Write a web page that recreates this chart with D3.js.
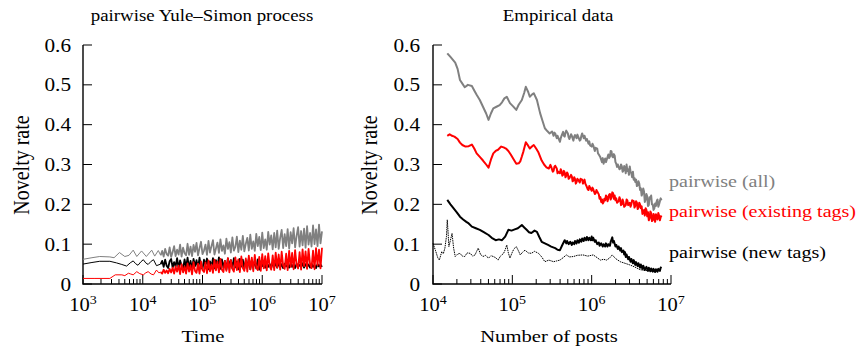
<!DOCTYPE html>
<html>
<head>
<meta charset="utf-8">
<script src="https://cdn.jsdelivr.net/npm/d3@7"></script>
<style>
  body { margin: 0; background: #fff; }
  text { font-family: "Liberation Serif", "Times New Roman", serif; }
</style>
</head>
<body>
<svg id="chart" width="860" height="350"></svg>
<script>
// ---- data -------------------------------------------------------------------
// x values are log10 of time / number of posts

const rateTicks = [0, 0.1, 0.2, 0.3, 0.4, 0.5, 0.6];
const simDecades = [3, 4, 5, 6, 7];
const empDecades = [4, 5, 6, 7];

// simulation, smooth start (pairs [log10 t, rate])
const simAllStart = [[3.0,.062],[3.15,.066],[3.28,.069],[3.45,.068],[3.52,.066],[3.61,.079],[3.70,.069],[3.77,.072],[3.84,.085],[3.90,.069],[3.98,.083],[4.06,.069],[4.15,.085],[4.20,.070],[4.26,.084]];
const simNewStart = [[3.0,.050],[3.15,.054],[3.28,.057],[3.45,.057],[3.56,.053],[3.65,.049],[3.73,.045],[3.79,.053],[3.84,.058],[3.88,.051],[3.92,.047],[3.97,.056],[4.01,.061],[4.05,.053],[4.09,.049],[4.14,.057],[4.18,.061],[4.23,.046]];
const simOldStart = [[3.0,.014],[3.2,.014],[3.45,.014],[3.54,.023],[3.65,.023],[3.70,.021],[3.76,.027],[3.80,.025],[3.84,.023],[3.90,.031],[3.95,.026],[4.01,.023],[4.05,.028],[4.09,.031],[4.14,.025],[4.18,.023],[4.23,.035],[4.27,.028]];

// simulation, noisy part sampled from 10^4.3 to 10^7 every 0.025 decades
const simNoiseFrom = 4.3, simNoiseStep = 0.025;
const simAllNoise = [.072,.083,.069,.088,.075,.071,.092,.068,.080,.095,.070,.086,.074,.099,.069,.091,.077,.072,.101,.073,
  .094,.070,.098,.081,.103,.072,.090,.106,.075,.084,.099,.073,.108,.079,.095,.110,.074,.089,.104,.078,
  .112,.083,.097,.076,.114,.088,.105,.079,.117,.084,.093,.119,.080,.109,.086,.121,.082,.101,.116,.084,
  .124,.088,.107,.083,.126,.095,.118,.085,.129,.090,.112,.086,.131,.099,.122,.087,.128,.092,.134,.088,
  .116,.136,.090,.125,.095,.138,.089,.130,.102,.140,.092,.121,.143,.094,.133,.097,.139,.091,.145,.099,
  .128,.094,.147,.100,.137,.095,.149,.102,.132];
const simNewNoise = [.050,.058,.043,.061,.046,.040,.057,.063,.041,.055,.044,.065,.039,.059,.047,.038,.062,.042,.066,.040,
  .058,.037,.063,.045,.060,.039,.066,.043,.038,.061,.048,.064,.037,.057,.042,.065,.039,.060,.044,.067,
  .038,.062,.041,.058,.036,.064,.046,.060,.039,.065,.042,.057,.037,.063,.044,.061,.038,.059,.041,.064,
  .037,.060,.043,.058,.039,.062,.036,.057,.045,.052,.041,.054,.043,.050,.040,.053,.044,.051,.041,.052,
  .042,.050,.040,.051,.044,.049,.041,.052,.043,.050,.040,.051,.044,.048,.042,.052,.041,.050,.043,.049,
  .041,.051,.043,.048,.040,.050,.044,.049,.043];
const simOldNoise = [.030,.026,.036,.028,.034,.027,.038,.029,.041,.026,.044,.031,.046,.025,.050,.029,.044,.026,.052,.031,
  .047,.024,.055,.033,.028,.051,.026,.057,.035,.030,.054,.027,.059,.032,.049,.028,.061,.034,.056,.029,
  .063,.036,.030,.058,.033,.065,.029,.060,.038,.031,.067,.035,.062,.030,.069,.040,.033,.064,.031,.071,
  .037,.066,.032,.073,.042,.035,.068,.033,.075,.039,.070,.034,.077,.044,.036,.072,.035,.079,.041,.074,
  .036,.081,.046,.038,.076,.035,.083,.043,.078,.037,.085,.048,.039,.080,.036,.087,.045,.082,.038,.088,
  .050,.040,.084,.037,.090,.047,.086,.039,.091];

// empirical data (pairs [log10 posts, rate])
const empAll = [[4.18,.579],[4.22,.570],[4.28,.556],[4.31,.540],[4.34,.512],[4.37,.503],[4.40,.494],[4.44,.500],[4.49,.497],[4.52,.486],
  [4.55,.475],[4.59,.462],[4.63,.445],[4.67,.428],[4.70,.412],[4.73,.428],[4.76,.441],[4.80,.445],[4.84,.449],[4.87,.456],
  [4.90,.466],[4.93,.470],[4.97,.454],[5.01,.446],[5.05,.437],[5.08,.450],[5.12,.462],[5.15,.480],[5.17,.495],[5.20,.482],
  [5.22,.470],[5.25,.476],[5.27,.479],[5.31,.462],[5.35,.429],[5.38,.410],[5.41,.391],[5.44,.384],[5.47,.378],[5.50,.383],
  [5.52,.372],[5.53,.380],[5.54,.378],[5.56,.366],[5.57,.372],[5.60,.357],[5.61,.366],[5.62,.372],[5.64,.382],[5.65,.372],
  [5.66,.370],[5.67,.380],[5.68,.385],[5.70,.378],[5.71,.368],[5.72,.364],[5.74,.376],[5.75,.372],[5.77,.360],[5.78,.370],
  [5.79,.374],[5.81,.366],[5.82,.375],[5.83,.370],[5.85,.360],[5.86,.362],[5.87,.372],[5.88,.378],[5.90,.366],[5.91,.372],
  [5.93,.360],[5.94,.364],[5.96,.352],[5.97,.358],[5.98,.348],[6.00,.345],[6.01,.352],[6.02,.348],[6.04,.334],[6.05,.342],
  [6.07,.340],[6.08,.328],[6.09,.325],[6.11,.318],[6.12,.312],[6.13,.306],[6.14,.316],[6.15,.302],[6.17,.315],[6.18,.306],
  [6.19,.312],[6.21,.325],[6.22,.316],[6.23,.320],[6.24,.334],[6.25,.333],[6.26,.320],[6.27,.318],[6.28,.326],[6.29,.322],
  [6.30,.306],[6.31,.302],[6.32,.294],[6.33,.300],[6.35,.288],[6.36,.290],[6.37,.300],[6.38,.296],[6.39,.282],[6.40,.284],
  [6.41,.296],[6.42,.292],[6.43,.278],[6.44,.300],[6.45,.284],[6.46,.288],[6.47,.274],[6.48,.295],[6.49,.282],[6.50,.278],
  [6.51,.268],[6.52,.282],[6.53,.262],[6.54,.266],[6.55,.256],[6.56,.262],[6.57,.246],[6.58,.248],[6.59,.258],[6.60,.252],
  [6.61,.236],[6.62,.240],[6.63,.222],[6.64,.228],[6.65,.240],[6.66,.232],[6.67,.206],[6.68,.212],[6.69,.226],[6.70,.220],
  [6.71,.196],[6.72,.198],[6.73,.218],[6.74,.214],[6.75,.222],[6.76,.200],[6.77,.200],[6.78,.186],[6.79,.190],[6.80,.202],
  [6.81,.196],[6.82,.208],[6.83,.212],[6.84,.194],[6.85,.200],[6.86,.208],[6.87,.215],[6.88,.210]];
const empOld = [[4.18,.372],[4.21,.376],[4.24,.372],[4.27,.370],[4.31,.364],[4.34,.355],[4.37,.349],[4.41,.345],[4.45,.346],[4.49,.350],
  [4.52,.340],[4.55,.328],[4.59,.319],[4.63,.310],[4.67,.300],[4.70,.292],[4.73,.312],[4.76,.328],[4.79,.334],[4.82,.337],
  [4.86,.345],[4.89,.343],[4.92,.340],[4.95,.334],[4.98,.325],[5.01,.315],[5.05,.302],[5.08,.303],[5.10,.308],[5.12,.320],
  [5.14,.333],[5.17,.356],[5.19,.350],[5.22,.340],[5.25,.346],[5.27,.349],[5.30,.340],[5.33,.330],[5.37,.310],[5.40,.300],
  [5.43,.293],[5.46,.290],[5.48,.299],[5.49,.294],[5.51,.282],[5.52,.284],[5.53,.294],[5.54,.297],[5.56,.290],[5.57,.278],
  [5.58,.282],[5.60,.278],[5.61,.288],[5.62,.284],[5.63,.272],[5.64,.274],[5.65,.284],[5.66,.280],[5.67,.268],[5.68,.272],
  [5.69,.280],[5.70,.276],[5.71,.264],[5.72,.266],[5.74,.274],[5.75,.270],[5.76,.258],[5.77,.260],[5.78,.268],[5.79,.264],
  [5.80,.252],[5.81,.256],[5.82,.264],[5.83,.262],[5.85,.255],[5.86,.264],[5.88,.262],[5.89,.252],[5.91,.262],[5.92,.252],
  [5.93,.248],[5.95,.238],[5.96,.236],[5.97,.246],[5.98,.242],[6.00,.234],[6.01,.242],[6.02,.238],[6.04,.226],[6.05,.228],
  [6.06,.236],[6.07,.232],[6.09,.225],[6.10,.214],[6.11,.218],[6.12,.206],[6.13,.212],[6.14,.202],[6.15,.206],[6.16,.214],
  [6.17,.210],[6.18,.222],[6.19,.220],[6.20,.208],[6.21,.215],[6.22,.224],[6.23,.226],[6.24,.212],[6.25,.218],[6.26,.230],
  [6.27,.228],[6.28,.214],[6.29,.222],[6.30,.210],[6.31,.215],[6.32,.204],[6.34,.208],[6.35,.218],[6.36,.212],[6.37,.198],
  [6.38,.200],[6.39,.212],[6.40,.206],[6.41,.194],[6.43,.198],[6.44,.212],[6.45,.210],[6.46,.198],[6.48,.204],[6.49,.194],
  [6.50,.200],[6.51,.210],[6.53,.208],[6.54,.192],[6.55,.196],[6.56,.208],[6.57,.204],[6.58,.188],[6.59,.192],[6.60,.204],
  [6.61,.200],[6.62,.190],[6.63,.195],[6.64,.176],[6.65,.178],[6.66,.186],[6.67,.172],[6.68,.190],[6.69,.186],[6.70,.170],
  [6.71,.180],[6.72,.160],[6.73,.165],[6.74,.182],[6.75,.178],[6.76,.158],[6.77,.160],[6.78,.176],[6.79,.170],[6.80,.156],
  [6.81,.175],[6.82,.168],[6.83,.162],[6.84,.178],[6.85,.172],[6.86,.160],[6.87,.168],[6.88,.172]];
const empNew = [[4.18,.211],[4.22,.200],[4.26,.190],[4.30,.180],[4.34,.169],[4.38,.162],[4.42,.156],[4.45,.152],[4.49,.144],[4.54,.140],
  [4.59,.136],[4.64,.130],[4.70,.123],[4.74,.116],[4.79,.110],[4.83,.112],[4.87,.110],[4.91,.119],[4.95,.136],[4.99,.134],
  [5.03,.137],[5.07,.140],[5.12,.148],[5.15,.142],[5.18,.136],[5.21,.130],[5.24,.128],[5.28,.134],[5.31,.131],[5.34,.118],
  [5.37,.106],[5.41,.102],[5.45,.098],[5.49,.094],[5.54,.090],[5.57,.086],[5.60,.085],[5.63,.098],[5.66,.110],[5.68,.102],
  [5.69,.108],[5.71,.100],[5.73,.106],[5.75,.098],[5.76,.104],[5.78,.100],[5.79,.108],[5.81,.102],[5.82,.110],[5.84,.104],
  [5.85,.112],[5.87,.106],[5.88,.114],[5.90,.108],[5.91,.116],[5.93,.110],[5.94,.118],[5.96,.110],[5.97,.116],[5.99,.110],
  [6.00,.119],[6.01,.110],[6.02,.116],[6.04,.106],[6.05,.110],[6.07,.100],[6.09,.104],[6.10,.096],[6.12,.102],[6.14,.094],
  [6.15,.100],[6.17,.094],[6.18,.102],[6.20,.094],[6.21,.100],[6.23,.096],[6.24,.106],[6.26,.117],[6.27,.104],[6.28,.108],
  [6.30,.094],[6.31,.098],[6.33,.088],[6.34,.094],[6.36,.084],[6.37,.090],[6.38,.080],[6.40,.084],[6.41,.074],[6.42,.080],
  [6.43,.068],[6.44,.074],[6.46,.062],[6.47,.068],[6.49,.056],[6.50,.063],[6.52,.052],[6.53,.060],[6.55,.048],[6.56,.055],
  [6.58,.045],[6.59,.052],[6.61,.041],[6.62,.049],[6.64,.038],[6.65,.046],[6.67,.035],[6.69,.043],[6.71,.033],[6.72,.041],
  [6.74,.032],[6.75,.039],[6.77,.031],[6.78,.038],[6.80,.030],[6.81,.037],[6.83,.031],[6.84,.038],[6.86,.033],[6.87,.041],[6.88,.043]];
const empNewDotted = [[4.00,.102],[4.03,.085],[4.06,.066],[4.08,.060],[4.11,.081],[4.13,.076],[4.15,.090],[4.17,.120],[4.18,.161],[4.19,.130],
  [4.20,.094],[4.22,.110],[4.24,.127],[4.26,.090],[4.28,.069],[4.31,.075],[4.34,.077],[4.37,.070],[4.40,.069],[4.43,.078],
  [4.47,.077],[4.50,.070],[4.53,.073],[4.55,.082],[4.57,.090],[4.60,.074],[4.63,.069],[4.66,.072],[4.70,.065],[4.73,.071],
  [4.76,.069],[4.79,.066],[4.82,.060],[4.85,.070],[4.89,.077],[4.91,.086],[4.93,.098],[4.95,.078],[4.97,.065],[5.00,.080],
  [5.02,.088],[5.05,.094],[5.08,.082],[5.10,.073],[5.13,.080],[5.16,.085],[5.20,.078],[5.24,.077],[5.28,.082],[5.33,.077],
  [5.37,.068],[5.41,.056],[5.46,.060],[5.52,.056],[5.56,.058],[5.60,.060],[5.64,.066],[5.68,.073],[5.72,.068],[5.77,.069],
  [5.82,.072],[5.89,.073],[5.95,.070],[6.02,.073],[6.07,.066],[6.11,.060],[6.15,.062],[6.19,.060],[6.23,.066],[6.26,.073],
  [6.30,.064],[6.36,.056],[6.42,.052],[6.48,.048],[6.54,.043],[6.61,.036],[6.67,.034],[6.74,.033],[6.80,.032],[6.85,.034],[6.88,.035]];

// ---- layout -----------------------------------------------------------------

const svg = d3.select('#chart');
const plotTop = 45, plotBottom = 284;
const panels = [
  { left: 83, right: 322, decades: simDecades, title: 'pairwise Yule\u2013Simon process', xTitle: 'Time',
    titleX: 202, xTitleX: 203, yTitleX: 29, tickRight: 71 },
  { left: 433, right: 671, decades: empDecades, title: 'Empirical data', xTitle: 'Number of posts',
    titleX: 558, xTitleX: 549, yTitleX: 377, tickRight: 420 }
];

const y = d3.scaleLinear().domain([0, 0.6]).range([plotBottom, plotTop]);
const stretch = 1.18;

function label(g, x, yy, str, size, anchor, color) {
  return g.append('text')
    .attr('transform', 'translate(' + x + ',' + yy + ') scale(' + stretch + ',1)')
    .attr('text-anchor', anchor)
    .style('font-size', size + 'px')
    .style('fill', color || '#000')
    .text(str);
}

panels.forEach(p => {
  const lo = p.decades[0], hi = p.decades[p.decades.length - 1];
  p.x = d3.scaleLog().domain([Math.pow(10, lo), Math.pow(10, hi)]).range([p.left, p.right]);
  const g = svg.append('g');
  p.g = g;

  label(g, p.titleX, 21, p.title, 16, 'middle');
  label(g, p.xTitleX, 342, p.xTitle, 17.5, 'middle');
  g.append('text')
    .attr('transform', 'translate(' + p.yTitleX + ',165) rotate(-90) scale(1,' + stretch + ')')
    .attr('text-anchor', 'middle')
    .style('font-size', '20px')
    .text('Novelty rate');

  // y ticks
  rateTicks.forEach(v => {
    g.append('line').attr('x1', p.left).attr('x2', p.left + 9)
      .attr('y1', y(v)).attr('y2', y(v)).attr('stroke', '#000').attr('stroke-width', 1);
    label(g, p.tickRight, y(v) + 6.5, v === 0 ? '0' : d3.format('.1f')(v), 18, 'end');
  });

  // x ticks, major and minor
  for (let d = lo; d <= hi; d++) {
    const xv = p.x(Math.pow(10, d));
    g.append('line').attr('x1', xv).attr('x2', xv).attr('y1', plotBottom).attr('y2', plotBottom - 9)
      .attr('stroke', '#000').attr('stroke-width', 1);
    const t = g.append('text')
      .attr('transform', 'translate(' + xv + ',311) scale(1.08,1)')
      .attr('text-anchor', 'middle')
      .style('font-size', '19px');
    t.append('tspan').text('10');
    t.append('tspan').attr('dy', -7).style('font-size', '13px').text(d);
    if (d < hi) {
      for (let m = 2; m <= 9; m++) {
        const xm = p.x(m * Math.pow(10, d));
        g.append('line').attr('x1', xm).attr('x2', xm).attr('y1', plotBottom).attr('y2', plotBottom - 5)
          .attr('stroke', '#000').attr('stroke-width', 1);
      }
    }
  }

  // axis lines
  g.append('path')
    .attr('d', 'M' + p.left + ',' + plotTop + 'V' + plotBottom + 'H' + p.right)
    .attr('fill', 'none').attr('stroke', '#000').attr('stroke-width', 1.4);
});

// ---- series -----------------------------------------------------------------

function noisePoints(noise) {
  return noise.map((v, i) => [simNoiseFrom + i * simNoiseStep, v]);
}

function drawSeries(p, data, color, width, dash) {
  const line = d3.line()
    .x(d => p.x(Math.pow(10, d[0])))
    .y(d => y(d[1]));
  p.g.append('path')
    .datum(data)
    .attr('d', line)
    .attr('fill', 'none')
    .attr('stroke', color)
    .attr('stroke-width', width)
    .attr('stroke-linejoin', 'round')
    .attr('stroke-dasharray', dash || null);
}

// simulated runs: thin smooth start, then a dense noisy band
const sim = panels[0], emp = panels[1];
[[simAllStart, simAllNoise, '#808080'], [simNewStart, simNewNoise, '#000000'], [simOldStart, simOldNoise, '#ff0000']]
  .forEach(([start, noise, color]) => {
    const pts = noisePoints(noise);
    drawSeries(sim, start.concat(pts.slice(0, 1)), color, 1);
    drawSeries(sim, pts, color, 1.8);
  });

drawSeries(emp, empAll, '#808080', 2);
drawSeries(emp, empOld, '#ff0000', 2);
drawSeries(emp, empNewDotted, '#000000', 1, '1.5,0.8');
drawSeries(emp, empNew, '#000000', 2);

// legend labels at the line ends
label(svg, 669, 187, 'pairwise (all)', 17, 'start', '#808080');
label(svg, 669, 217, 'pairwise (existing tags)', 17, 'start', '#ff0000');
label(svg, 669, 258, 'pairwise (new tags)', 17, 'start', '#000000');
</script>
</body>
</html>
